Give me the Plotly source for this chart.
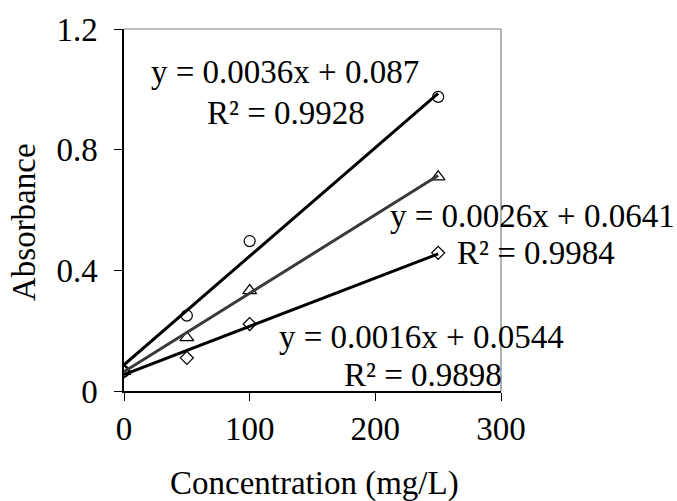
import plotly.graph_objects as go

# Calibration data: concentration (mg/L) vs absorbance for three series
conc = [0, 50, 100, 250]
abs_circle = [0.065, 0.25, 0.497, 0.975]
abs_triangle = [0.065, 0.177, 0.333, 0.71]
abs_diamond = [0.065, 0.11, 0.222, 0.458]

# Linear trendlines (slope, intercept, R²) as reported
fit_circle = (0.0036, 0.087, 0.9928)
fit_triangle = (0.0026, 0.0641, 0.9984)
fit_diamond = (0.0016, 0.0544, 0.9898)

x_ticks = [0, 100, 200, 300]
y_ticks = [0, 0.4, 0.8, 1.2]
X_RANGE = [0, 300]
Y_RANGE = [0, 1.2]

FONT = "Times New Roman, Liberation Serif, serif"
FS = 33

fig = go.Figure()

series = [
    (abs_circle, "circle-open", 11, fit_circle, "#000000"),
    (abs_triangle, "triangle-up-open", 12, fit_triangle, "#3a3a3a"),
    (abs_diamond, "diamond-open", 10, fit_diamond, "#000000"),
]

for vals, sym, size, fit, lc in series:
    fig.add_trace(go.Scatter(
        x=conc, y=vals, mode="markers",
        marker=dict(symbol=sym, size=size, color="black", line=dict(width=1.2, color="black")),
        showlegend=False, hoverinfo="skip",
    ))

for vals, sym, size, fit, lc in series:
    m, b, r2 = fit
    xs = [conc[0], conc[-1]]
    ys = [m * xv + b for xv in xs]
    fig.add_trace(go.Scatter(
        x=xs, y=ys, mode="lines",
        line=dict(color=lc, width=3),
        showlegend=False, hoverinfo="skip",
    ))

def eq_text(fit):
    m, b, r2 = fit
    return f"y = {m:g}x + {b:g}", f"R² = {r2:g}"

def to_paper(xv, yv):
    return ((xv - X_RANGE[0]) / (X_RANGE[1] - X_RANGE[0]),
            (yv - Y_RANGE[0]) / (Y_RANGE[1] - Y_RANGE[0]))

# Equation label placement (in axis units; may sit past the plot edge)
labels = [
    (fit_circle, (128, 1.058), (129, 0.92)),
    (fit_triangle, (325, 0.58), (328, 0.458)),
    (fit_diamond, (237, 0.178), (238, 0.052)),
]
for fit, p1, p2 in labels:
    t1, t2 = eq_text(fit)
    for txt, (ax_, ay_) in ((t1, p1), (t2, p2)):
        px, py = to_paper(ax_, ay_)
        fig.add_annotation(
            x=px, y=py, xref="paper", yref="paper", text=txt, showarrow=False,
            xanchor="center", yanchor="middle",
            font=dict(family=FONT, size=FS, color="black"),
        )

# Axis titles
fig.add_annotation(x=0.505, y=-0.255, xref="paper", yref="paper",
                   text="Concentration (mg/L)", showarrow=False,
                   xanchor="center", yanchor="middle",
                   font=dict(family=FONT, size=FS, color="black"))
fig.add_annotation(x=-0.265, y=0.467, xref="paper", yref="paper",
                   text="Absorbance", showarrow=False, textangle=-90,
                   xanchor="center", yanchor="middle",
                   font=dict(family=FONT, size=FS, color="black"))

# Thin grey frame on top and right
fig.add_shape(type="line", xref="paper", yref="paper", x0=0, x1=1, y0=1, y1=1,
              line=dict(color="#7f7f7f", width=1.2), layer="below")
fig.add_shape(type="line", xref="paper", yref="paper", x0=1, x1=1, y0=0, y1=1,
              line=dict(color="#7f7f7f", width=1.2), layer="below")

fig.update_layout(
    width=677, height=501,
    margin=dict(l=124, r=176, t=27, b=110),
    paper_bgcolor="white", plot_bgcolor="white",
    font=dict(family=FONT, size=FS, color="black"),
    xaxis=dict(
        range=X_RANGE, tickvals=x_ticks, ticktext=[str(v) for v in x_ticks],
        showgrid=False, zeroline=False, showline=True, linecolor="black", linewidth=1.5,
        ticks="outside", ticklen=8, tickcolor="black", tickwidth=1.2,
        tickfont=dict(family=FONT, size=FS),
    ),
    yaxis=dict(
        range=Y_RANGE, tickvals=y_ticks, ticktext=["0", "0.4", "0.8", "1.2"],
        showgrid=False, zeroline=False, showline=True, linecolor="black", linewidth=1.5,
        ticks="outside", ticklen=8, tickcolor="black", tickwidth=1.2,
        ticklabelstandoff=10,
        tickfont=dict(family=FONT, size=FS),
    ),
)

fig.write_html("out.html")
